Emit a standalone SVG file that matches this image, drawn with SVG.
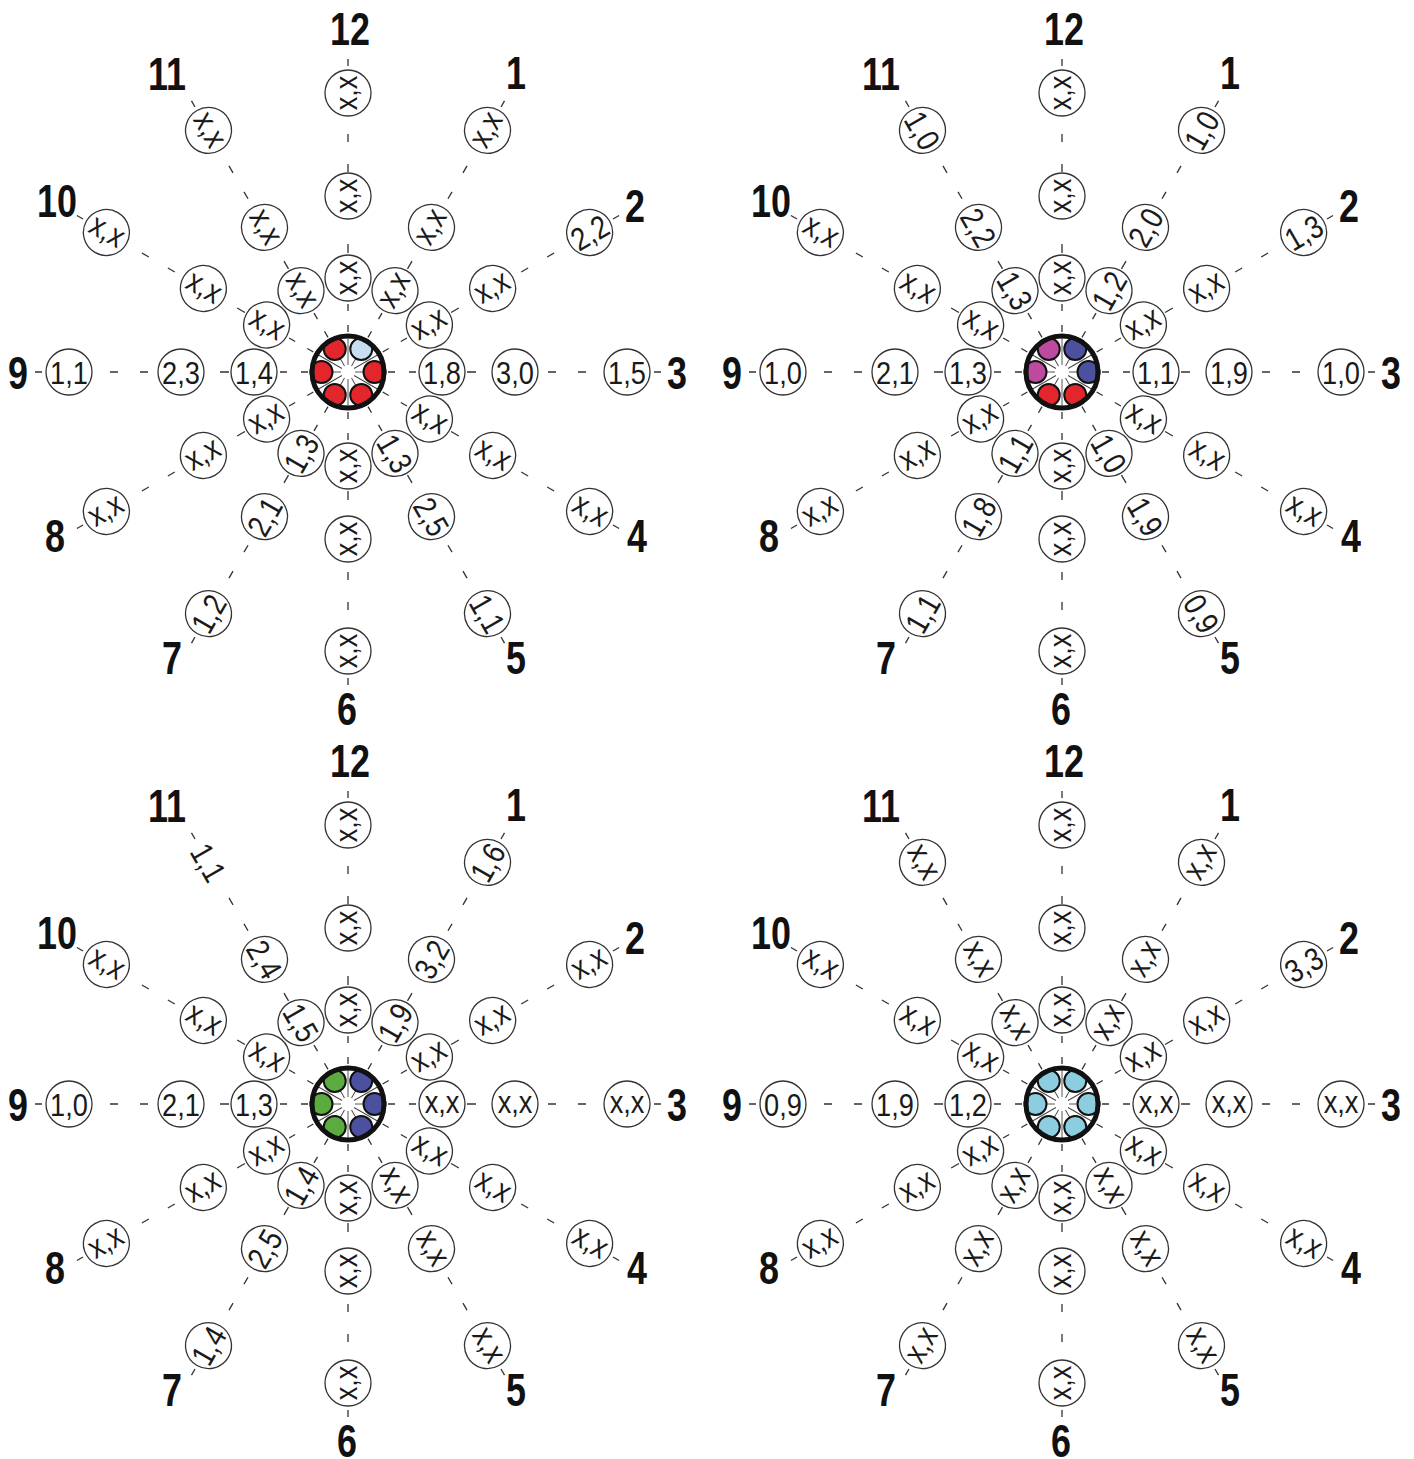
<svg xmlns="http://www.w3.org/2000/svg" xmlns:xlink="http://www.w3.org/1999/xlink" width="1414" height="1459" viewBox="0 0 1414 1459">
<style>
.sp{stroke:#333;stroke-width:1.3;fill:none;stroke-dasharray:7 14 7 51 9 72 8 22 8 68 7 200}
.c{fill:#fff;stroke:#333;stroke-width:1.3}
.t{font-family:'Liberation Sans',Arial,sans-serif;font-size:32px;fill:#1a1a1a;text-anchor:middle;transform:scale(0.85,1)}
.lb{font-family:'Liberation Sans',Arial,sans-serif;font-weight:bold;font-size:46px;fill:#111;text-anchor:middle}
.ring{fill:none;stroke:#111;stroke-width:5}
.hb{fill:#fff}
.ray{stroke:#444;stroke-width:0.9}
.dot{stroke:#111;stroke-width:2}
.red{fill:#e2262b}.lbl{fill:#c9ddf0}.mag{fill:#be4aa0}.blu{fill:#4c519f}.grn{fill:#5bab3f}.sky{fill:#8dcde0}
</style>
<defs>
<g id="rays">
<line class="ray" x1="7" x2="34" transform="rotate(0)"/><line class="ray" x1="7" x2="34" transform="rotate(30)"/><line class="ray" x1="7" x2="34" transform="rotate(60)"/><line class="ray" x1="7" x2="34" transform="rotate(90)"/><line class="ray" x1="7" x2="34" transform="rotate(120)"/><line class="ray" x1="7" x2="34" transform="rotate(150)"/><line class="ray" x1="7" x2="34" transform="rotate(180)"/><line class="ray" x1="7" x2="34" transform="rotate(210)"/><line class="ray" x1="7" x2="34" transform="rotate(240)"/><line class="ray" x1="7" x2="34" transform="rotate(270)"/><line class="ray" x1="7" x2="34" transform="rotate(300)"/><line class="ray" x1="7" x2="34" transform="rotate(330)"/>
</g>
<g id="spk">
<line class="sp" x1="40" x2="330" transform="rotate(-90)"/><line class="sp" x1="40" x2="330" transform="rotate(-60)"/><line class="sp" x1="40" x2="330" transform="rotate(-30)"/><line class="sp" x1="40" x2="330" transform="rotate(0)"/><line class="sp" x1="40" x2="330" transform="rotate(30)"/><line class="sp" x1="40" x2="330" transform="rotate(60)"/><line class="sp" x1="40" x2="330" transform="rotate(90)"/><line class="sp" x1="40" x2="330" transform="rotate(120)"/><line class="sp" x1="40" x2="330" transform="rotate(150)"/><line class="sp" x1="40" x2="330" transform="rotate(180)"/><line class="sp" x1="40" x2="330" transform="rotate(210)"/><line class="sp" x1="40" x2="330" transform="rotate(240)"/>
</g>
<g id="lbls">
<text class="lb" transform="translate(2 -327) scale(0.78 1)">12</text><text class="lb" transform="translate(168 -283) scale(0.78 1)">1</text><text class="lb" transform="translate(287 -150) scale(0.78 1)">2</text><text class="lb" transform="translate(329 16.5) scale(0.78 1)">3</text><text class="lb" transform="translate(289 179.5) scale(0.78 1)">4</text><text class="lb" transform="translate(168 301.5) scale(0.78 1)">5</text><text class="lb" transform="translate(-1 352.5) scale(0.78 1)">6</text><text class="lb" transform="translate(-176 301.5) scale(0.78 1)">7</text><text class="lb" transform="translate(-293 179.5) scale(0.78 1)">8</text><text class="lb" transform="translate(-330 16.5) scale(0.78 1)">9</text><text class="lb" transform="translate(-291 -155.5) scale(0.78 1)">10</text><text class="lb" transform="translate(-181 -282.5) scale(0.78 1)">11</text>
</g>
</defs>
<rect width="1414" height="1459" fill="#fff"/>

<g id="connectors">
<use xlink:href="#spk" href="#spk" transform="translate(348 372)"/>
<use xlink:href="#spk" href="#spk" transform="translate(1062 372)"/>
<use xlink:href="#spk" href="#spk" transform="translate(348 1104)"/>
<use xlink:href="#spk" href="#spk" transform="translate(1062 1104)"/>
</g>

<!-- Top-left -->
<g id="diagram-a" transform="translate(348 372)">
<g id="a-hub"><circle class="hb" r="36"/><use xlink:href="#rays" href="#rays"/>
<circle class="dot red" cx="26.5" cy="0" r="11"/><circle class="dot red" cx="13.25" cy="22.95" r="11"/><circle class="dot red" cx="-13.25" cy="22.95" r="11"/><circle class="dot red" cx="-26.5" cy="0" r="11"/><circle class="dot red" cx="-13.25" cy="-22.95" r="11"/><circle class="dot lbl" cx="13.25" cy="-22.95" r="11"/>
<circle class="ring" r="36"/></g>
<g id="a-12-1" transform="rotate(-90) translate(94 0)"><circle class="c" r="23"/><text class="t" y="8.5">x,x</text></g>
<g id="a-12-2" transform="rotate(-90) translate(176 0)"><circle class="c" r="23"/><text class="t" y="8.5">x,x</text></g>
<g id="a-12-3" transform="rotate(-90) translate(279 0)"><circle class="c" r="23"/><text class="t" y="8.5">x,x</text></g>
<g id="a-1-1" transform="rotate(-60) translate(94 0)"><circle class="c" r="23"/><text class="t" y="8.5">x,x</text></g>
<g id="a-1-2" transform="rotate(-60) translate(167 0)"><circle class="c" r="23"/><text class="t" y="8.5">x,x</text></g>
<g id="a-1-3" transform="rotate(-60) translate(279 0)"><circle class="c" r="23"/><text class="t" y="8.5">x,x</text></g>
<g id="a-2-1" transform="rotate(-30) translate(94 0)"><circle class="c" r="23"/><text class="t" y="8.5">x,x</text></g>
<g id="a-2-2" transform="rotate(-30) translate(167 0)"><circle class="c" r="23"/><text class="t" y="8.5">x,x</text></g>
<g id="a-2-3" transform="rotate(-30) translate(279 0)"><circle class="c" r="23"/><text class="t" y="11.5">2,2</text></g>
<g id="a-3-1" transform="translate(94 0)"><circle class="c" r="23"/><text class="t" y="11.5">1,8</text></g>
<g id="a-3-2" transform="translate(167 0)"><circle class="c" r="23"/><text class="t" y="11.5">3,0</text></g>
<g id="a-3-3" transform="translate(279 0)"><circle class="c" r="23"/><text class="t" y="11.5">1,5</text></g>
<g id="a-4-1" transform="rotate(30) translate(94 0)"><circle class="c" r="23"/><text class="t" y="8.5">x,x</text></g>
<g id="a-4-2" transform="rotate(30) translate(167 0)"><circle class="c" r="23"/><text class="t" y="8.5">x,x</text></g>
<g id="a-4-3" transform="rotate(30) translate(279 0)"><circle class="c" r="23"/><text class="t" y="8.5">x,x</text></g>
<g id="a-5-1" transform="rotate(60) translate(94 0)"><circle class="c" r="23"/><text class="t" y="11.5">1,3</text></g>
<g id="a-5-2" transform="rotate(60) translate(167 0)"><circle class="c" r="23"/><text class="t" y="11.5">2,5</text></g>
<g id="a-5-3" transform="rotate(60) translate(279 0)"><circle class="c" r="23"/><text class="t" y="11.5">1,1</text></g>
<g id="a-6-1" transform="rotate(90) translate(94 0) rotate(180)"><circle class="c" r="23"/><text class="t" y="8.5">x,x</text></g>
<g id="a-6-2" transform="rotate(90) translate(167 0) rotate(180)"><circle class="c" r="23"/><text class="t" y="8.5">x,x</text></g>
<g id="a-6-3" transform="rotate(90) translate(279 0) rotate(180)"><circle class="c" r="23"/><text class="t" y="8.5">x,x</text></g>
<g id="a-7-1" transform="rotate(120) translate(94 0) rotate(180)"><circle class="c" r="23"/><text class="t" y="11.5">1,3</text></g>
<g id="a-7-2" transform="rotate(120) translate(167 0) rotate(180)"><circle class="c" r="23"/><text class="t" y="11.5">2,1</text></g>
<g id="a-7-3" transform="rotate(120) translate(279 0) rotate(180)"><circle class="c" r="23"/><text class="t" y="11.5">1,2</text></g>
<g id="a-8-1" transform="rotate(150) translate(94 0) rotate(180)"><circle class="c" r="23"/><text class="t" y="8.5">x,x</text></g>
<g id="a-8-2" transform="rotate(150) translate(167 0) rotate(180)"><circle class="c" r="23"/><text class="t" y="8.5">x,x</text></g>
<g id="a-8-3" transform="rotate(150) translate(279 0) rotate(180)"><circle class="c" r="23"/><text class="t" y="8.5">x,x</text></g>
<g id="a-9-1" transform="rotate(180) translate(94 0) rotate(180)"><circle class="c" r="23"/><text class="t" y="11.5">1,4</text></g>
<g id="a-9-2" transform="rotate(180) translate(167 0) rotate(180)"><circle class="c" r="23"/><text class="t" y="11.5">2,3</text></g>
<g id="a-9-3" transform="rotate(180) translate(279 0) rotate(180)"><circle class="c" r="23"/><text class="t" y="11.5">1,1</text></g>
<g id="a-10-1" transform="rotate(210) translate(94 0) rotate(180)"><circle class="c" r="23"/><text class="t" y="8.5">x,x</text></g>
<g id="a-10-2" transform="rotate(210) translate(167 0) rotate(180)"><circle class="c" r="23"/><text class="t" y="8.5">x,x</text></g>
<g id="a-10-3" transform="rotate(210) translate(279 0) rotate(180)"><circle class="c" r="23"/><text class="t" y="8.5">x,x</text></g>
<g id="a-11-1" transform="rotate(240) translate(94 0) rotate(180)"><circle class="c" r="23"/><text class="t" y="8.5">x,x</text></g>
<g id="a-11-2" transform="rotate(240) translate(167 0) rotate(180)"><circle class="c" r="23"/><text class="t" y="8.5">x,x</text></g>
<g id="a-11-3" transform="rotate(240) translate(279 0) rotate(180)"><circle class="c" r="23"/><text class="t" y="8.5">x,x</text></g>
<use id="a-labels" xlink:href="#lbls" href="#lbls"/>
</g>

<!-- Top-right -->
<g id="diagram-b" transform="translate(1062 372)">
<g id="b-hub"><circle class="hb" r="36"/><use xlink:href="#rays" href="#rays"/>
<circle class="dot blu" cx="26.5" cy="0" r="11"/><circle class="dot red" cx="13.25" cy="22.95" r="11"/><circle class="dot red" cx="-13.25" cy="22.95" r="11"/><circle class="dot mag" cx="-26.5" cy="0" r="11"/><circle class="dot mag" cx="-13.25" cy="-22.95" r="11"/><circle class="dot blu" cx="13.25" cy="-22.95" r="11"/>
<circle class="ring" r="36"/></g>
<g id="b-12-1" transform="rotate(-90) translate(94 0)"><circle class="c" r="23"/><text class="t" y="8.5">x,x</text></g>
<g id="b-12-2" transform="rotate(-90) translate(176 0)"><circle class="c" r="23"/><text class="t" y="8.5">x,x</text></g>
<g id="b-12-3" transform="rotate(-90) translate(279 0)"><circle class="c" r="23"/><text class="t" y="8.5">x,x</text></g>
<g id="b-1-1" transform="rotate(-60) translate(94 0)"><circle class="c" r="23"/><text class="t" y="11.5">1,2</text></g>
<g id="b-1-2" transform="rotate(-60) translate(167 0)"><circle class="c" r="23"/><text class="t" y="11.5">2,0</text></g>
<g id="b-1-3" transform="rotate(-60) translate(279 0)"><circle class="c" r="23"/><text class="t" y="11.5">1,0</text></g>
<g id="b-2-1" transform="rotate(-30) translate(94 0)"><circle class="c" r="23"/><text class="t" y="8.5">x,x</text></g>
<g id="b-2-2" transform="rotate(-30) translate(167 0)"><circle class="c" r="23"/><text class="t" y="8.5">x,x</text></g>
<g id="b-2-3" transform="rotate(-30) translate(279 0)"><circle class="c" r="23"/><text class="t" y="11.5">1,3</text></g>
<g id="b-3-1" transform="translate(94 0)"><circle class="c" r="23"/><text class="t" y="11.5">1,1</text></g>
<g id="b-3-2" transform="translate(167 0)"><circle class="c" r="23"/><text class="t" y="11.5">1,9</text></g>
<g id="b-3-3" transform="translate(279 0)"><circle class="c" r="23"/><text class="t" y="11.5">1,0</text></g>
<g id="b-4-1" transform="rotate(30) translate(94 0)"><circle class="c" r="23"/><text class="t" y="8.5">x,x</text></g>
<g id="b-4-2" transform="rotate(30) translate(167 0)"><circle class="c" r="23"/><text class="t" y="8.5">x,x</text></g>
<g id="b-4-3" transform="rotate(30) translate(279 0)"><circle class="c" r="23"/><text class="t" y="8.5">x,x</text></g>
<g id="b-5-1" transform="rotate(60) translate(94 0)"><circle class="c" r="23"/><text class="t" y="11.5">1,0</text></g>
<g id="b-5-2" transform="rotate(60) translate(167 0)"><circle class="c" r="23"/><text class="t" y="11.5">1,9</text></g>
<g id="b-5-3" transform="rotate(60) translate(279 0)"><circle class="c" r="23"/><text class="t" y="11.5">0,9</text></g>
<g id="b-6-1" transform="rotate(90) translate(94 0) rotate(180)"><circle class="c" r="23"/><text class="t" y="8.5">x,x</text></g>
<g id="b-6-2" transform="rotate(90) translate(167 0) rotate(180)"><circle class="c" r="23"/><text class="t" y="8.5">x,x</text></g>
<g id="b-6-3" transform="rotate(90) translate(279 0) rotate(180)"><circle class="c" r="23"/><text class="t" y="8.5">x,x</text></g>
<g id="b-7-1" transform="rotate(120) translate(94 0) rotate(180)"><circle class="c" r="23"/><text class="t" y="11.5">1,1</text></g>
<g id="b-7-2" transform="rotate(120) translate(167 0) rotate(180)"><circle class="c" r="23"/><text class="t" y="11.5">1,8</text></g>
<g id="b-7-3" transform="rotate(120) translate(279 0) rotate(180)"><circle class="c" r="23"/><text class="t" y="11.5">1,1</text></g>
<g id="b-8-1" transform="rotate(150) translate(94 0) rotate(180)"><circle class="c" r="23"/><text class="t" y="8.5">x,x</text></g>
<g id="b-8-2" transform="rotate(150) translate(167 0) rotate(180)"><circle class="c" r="23"/><text class="t" y="8.5">x,x</text></g>
<g id="b-8-3" transform="rotate(150) translate(279 0) rotate(180)"><circle class="c" r="23"/><text class="t" y="8.5">x,x</text></g>
<g id="b-9-1" transform="rotate(180) translate(94 0) rotate(180)"><circle class="c" r="23"/><text class="t" y="11.5">1,3</text></g>
<g id="b-9-2" transform="rotate(180) translate(167 0) rotate(180)"><circle class="c" r="23"/><text class="t" y="11.5">2,1</text></g>
<g id="b-9-3" transform="rotate(180) translate(279 0) rotate(180)"><circle class="c" r="23"/><text class="t" y="11.5">1,0</text></g>
<g id="b-10-1" transform="rotate(210) translate(94 0) rotate(180)"><circle class="c" r="23"/><text class="t" y="8.5">x,x</text></g>
<g id="b-10-2" transform="rotate(210) translate(167 0) rotate(180)"><circle class="c" r="23"/><text class="t" y="8.5">x,x</text></g>
<g id="b-10-3" transform="rotate(210) translate(279 0) rotate(180)"><circle class="c" r="23"/><text class="t" y="8.5">x,x</text></g>
<g id="b-11-1" transform="rotate(240) translate(94 0) rotate(180)"><circle class="c" r="23"/><text class="t" y="11.5">1,3</text></g>
<g id="b-11-2" transform="rotate(240) translate(167 0) rotate(180)"><circle class="c" r="23"/><text class="t" y="11.5">2,2</text></g>
<g id="b-11-3" transform="rotate(240) translate(279 0) rotate(180)"><circle class="c" r="23"/><text class="t" y="11.5">1,0</text></g>
<use id="b-labels" xlink:href="#lbls" href="#lbls"/>
</g>

<!-- Bottom-left -->
<g id="diagram-c" transform="translate(348 1104)">
<g id="c-hub"><circle class="hb" r="36"/><use xlink:href="#rays" href="#rays"/>
<circle class="dot blu" cx="26.5" cy="0" r="11"/><circle class="dot blu" cx="13.25" cy="22.95" r="11"/><circle class="dot grn" cx="-13.25" cy="22.95" r="11"/><circle class="dot grn" cx="-26.5" cy="0" r="11"/><circle class="dot grn" cx="-13.25" cy="-22.95" r="11"/><circle class="dot blu" cx="13.25" cy="-22.95" r="11"/>
<circle class="ring" r="36"/></g>
<g id="c-12-1" transform="rotate(-90) translate(94 0)"><circle class="c" r="23"/><text class="t" y="8.5">x,x</text></g>
<g id="c-12-2" transform="rotate(-90) translate(176 0)"><circle class="c" r="23"/><text class="t" y="8.5">x,x</text></g>
<g id="c-12-3" transform="rotate(-90) translate(279 0)"><circle class="c" r="23"/><text class="t" y="8.5">x,x</text></g>
<g id="c-1-1" transform="rotate(-60) translate(94 0)"><circle class="c" r="23"/><text class="t" y="11.5">1,9</text></g>
<g id="c-1-2" transform="rotate(-60) translate(167 0)"><circle class="c" r="23"/><text class="t" y="11.5">3,2</text></g>
<g id="c-1-3" transform="rotate(-60) translate(279 0)"><circle class="c" r="23"/><text class="t" y="11.5">1,6</text></g>
<g id="c-2-1" transform="rotate(-30) translate(94 0)"><circle class="c" r="23"/><text class="t" y="8.5">x,x</text></g>
<g id="c-2-2" transform="rotate(-30) translate(167 0)"><circle class="c" r="23"/><text class="t" y="8.5">x,x</text></g>
<g id="c-2-3" transform="rotate(-30) translate(279 0)"><circle class="c" r="23"/><text class="t" y="8.5">x,x</text></g>
<g id="c-3-1" transform="translate(94 0)"><circle class="c" r="23"/><text class="t" y="8.5">x,x</text></g>
<g id="c-3-2" transform="translate(167 0)"><circle class="c" r="23"/><text class="t" y="8.5">x,x</text></g>
<g id="c-3-3" transform="translate(279 0)"><circle class="c" r="23"/><text class="t" y="8.5">x,x</text></g>
<g id="c-4-1" transform="rotate(30) translate(94 0)"><circle class="c" r="23"/><text class="t" y="8.5">x,x</text></g>
<g id="c-4-2" transform="rotate(30) translate(167 0)"><circle class="c" r="23"/><text class="t" y="8.5">x,x</text></g>
<g id="c-4-3" transform="rotate(30) translate(279 0)"><circle class="c" r="23"/><text class="t" y="8.5">x,x</text></g>
<g id="c-5-1" transform="rotate(60) translate(94 0)"><circle class="c" r="23"/><text class="t" y="8.5">x,x</text></g>
<g id="c-5-2" transform="rotate(60) translate(167 0)"><circle class="c" r="23"/><text class="t" y="8.5">x,x</text></g>
<g id="c-5-3" transform="rotate(60) translate(279 0)"><circle class="c" r="23"/><text class="t" y="8.5">x,x</text></g>
<g id="c-6-1" transform="rotate(90) translate(94 0) rotate(180)"><circle class="c" r="23"/><text class="t" y="8.5">x,x</text></g>
<g id="c-6-2" transform="rotate(90) translate(167 0) rotate(180)"><circle class="c" r="23"/><text class="t" y="8.5">x,x</text></g>
<g id="c-6-3" transform="rotate(90) translate(279 0) rotate(180)"><circle class="c" r="23"/><text class="t" y="8.5">x,x</text></g>
<g id="c-7-1" transform="rotate(120) translate(94 0) rotate(180)"><circle class="c" r="23"/><text class="t" y="11.5">1,4</text></g>
<g id="c-7-2" transform="rotate(120) translate(167 0) rotate(180)"><circle class="c" r="23"/><text class="t" y="11.5">2,5</text></g>
<g id="c-7-3" transform="rotate(120) translate(279 0) rotate(180)"><circle class="c" r="23"/><text class="t" y="11.5">1,4</text></g>
<g id="c-8-1" transform="rotate(150) translate(94 0) rotate(180)"><circle class="c" r="23"/><text class="t" y="8.5">x,x</text></g>
<g id="c-8-2" transform="rotate(150) translate(167 0) rotate(180)"><circle class="c" r="23"/><text class="t" y="8.5">x,x</text></g>
<g id="c-8-3" transform="rotate(150) translate(279 0) rotate(180)"><circle class="c" r="23"/><text class="t" y="8.5">x,x</text></g>
<g id="c-9-1" transform="rotate(180) translate(94 0) rotate(180)"><circle class="c" r="23"/><text class="t" y="11.5">1,3</text></g>
<g id="c-9-2" transform="rotate(180) translate(167 0) rotate(180)"><circle class="c" r="23"/><text class="t" y="11.5">2,1</text></g>
<g id="c-9-3" transform="rotate(180) translate(279 0) rotate(180)"><circle class="c" r="23"/><text class="t" y="11.5">1,0</text></g>
<g id="c-10-1" transform="rotate(210) translate(94 0) rotate(180)"><circle class="c" r="23"/><text class="t" y="8.5">x,x</text></g>
<g id="c-10-2" transform="rotate(210) translate(167 0) rotate(180)"><circle class="c" r="23"/><text class="t" y="8.5">x,x</text></g>
<g id="c-10-3" transform="rotate(210) translate(279 0) rotate(180)"><circle class="c" r="23"/><text class="t" y="8.5">x,x</text></g>
<g id="c-11-1" transform="rotate(240) translate(94 0) rotate(180)"><circle class="c" r="23"/><text class="t" y="11.5">1,5</text></g>
<g id="c-11-2" transform="rotate(240) translate(167 0) rotate(180)"><circle class="c" r="23"/><text class="t" y="11.5">2,4</text></g>
<g id="c-11-3" transform="rotate(240) translate(279 0) rotate(180)"><circle r="23" fill="#fff"/><text class="t" y="11.5">1,1</text></g>
<use id="c-labels" xlink:href="#lbls" href="#lbls"/>
</g>

<!-- Bottom-right -->
<g id="diagram-d" transform="translate(1062 1104)">
<g id="d-hub"><circle class="hb" r="36"/><use xlink:href="#rays" href="#rays"/>
<circle class="dot sky" cx="26.5" cy="0" r="11"/><circle class="dot sky" cx="13.25" cy="22.95" r="11"/><circle class="dot sky" cx="-13.25" cy="22.95" r="11"/><circle class="dot sky" cx="-26.5" cy="0" r="11"/><circle class="dot sky" cx="-13.25" cy="-22.95" r="11"/><circle class="dot sky" cx="13.25" cy="-22.95" r="11"/>
<circle class="ring" r="36"/></g>
<g id="d-12-1" transform="rotate(-90) translate(94 0)"><circle class="c" r="23"/><text class="t" y="8.5">x,x</text></g>
<g id="d-12-2" transform="rotate(-90) translate(176 0)"><circle class="c" r="23"/><text class="t" y="8.5">x,x</text></g>
<g id="d-12-3" transform="rotate(-90) translate(279 0)"><circle class="c" r="23"/><text class="t" y="8.5">x,x</text></g>
<g id="d-1-1" transform="rotate(-60) translate(94 0)"><circle class="c" r="23"/><text class="t" y="8.5">x,x</text></g>
<g id="d-1-2" transform="rotate(-60) translate(167 0)"><circle class="c" r="23"/><text class="t" y="8.5">x,x</text></g>
<g id="d-1-3" transform="rotate(-60) translate(279 0)"><circle class="c" r="23"/><text class="t" y="8.5">x,x</text></g>
<g id="d-2-1" transform="rotate(-30) translate(94 0)"><circle class="c" r="23"/><text class="t" y="8.5">x,x</text></g>
<g id="d-2-2" transform="rotate(-30) translate(167 0)"><circle class="c" r="23"/><text class="t" y="8.5">x,x</text></g>
<g id="d-2-3" transform="rotate(-30) translate(279 0)"><circle class="c" r="23"/><text class="t" y="11.5">3,3</text></g>
<g id="d-3-1" transform="translate(94 0)"><circle class="c" r="23"/><text class="t" y="8.5">x,x</text></g>
<g id="d-3-2" transform="translate(167 0)"><circle class="c" r="23"/><text class="t" y="8.5">x,x</text></g>
<g id="d-3-3" transform="translate(279 0)"><circle class="c" r="23"/><text class="t" y="8.5">x,x</text></g>
<g id="d-4-1" transform="rotate(30) translate(94 0)"><circle class="c" r="23"/><text class="t" y="8.5">x,x</text></g>
<g id="d-4-2" transform="rotate(30) translate(167 0)"><circle class="c" r="23"/><text class="t" y="8.5">x,x</text></g>
<g id="d-4-3" transform="rotate(30) translate(279 0)"><circle class="c" r="23"/><text class="t" y="8.5">x,x</text></g>
<g id="d-5-1" transform="rotate(60) translate(94 0)"><circle class="c" r="23"/><text class="t" y="8.5">x,x</text></g>
<g id="d-5-2" transform="rotate(60) translate(167 0)"><circle class="c" r="23"/><text class="t" y="8.5">x,x</text></g>
<g id="d-5-3" transform="rotate(60) translate(279 0)"><circle class="c" r="23"/><text class="t" y="8.5">x,x</text></g>
<g id="d-6-1" transform="rotate(90) translate(94 0) rotate(180)"><circle class="c" r="23"/><text class="t" y="8.5">x,x</text></g>
<g id="d-6-2" transform="rotate(90) translate(167 0) rotate(180)"><circle class="c" r="23"/><text class="t" y="8.5">x,x</text></g>
<g id="d-6-3" transform="rotate(90) translate(279 0) rotate(180)"><circle class="c" r="23"/><text class="t" y="8.5">x,x</text></g>
<g id="d-7-1" transform="rotate(120) translate(94 0) rotate(180)"><circle class="c" r="23"/><text class="t" y="8.5">x,x</text></g>
<g id="d-7-2" transform="rotate(120) translate(167 0) rotate(180)"><circle class="c" r="23"/><text class="t" y="8.5">x,x</text></g>
<g id="d-7-3" transform="rotate(120) translate(279 0) rotate(180)"><circle class="c" r="23"/><text class="t" y="8.5">x,x</text></g>
<g id="d-8-1" transform="rotate(150) translate(94 0) rotate(180)"><circle class="c" r="23"/><text class="t" y="8.5">x,x</text></g>
<g id="d-8-2" transform="rotate(150) translate(167 0) rotate(180)"><circle class="c" r="23"/><text class="t" y="8.5">x,x</text></g>
<g id="d-8-3" transform="rotate(150) translate(279 0) rotate(180)"><circle class="c" r="23"/><text class="t" y="8.5">x,x</text></g>
<g id="d-9-1" transform="rotate(180) translate(94 0) rotate(180)"><circle class="c" r="23"/><text class="t" y="11.5">1,2</text></g>
<g id="d-9-2" transform="rotate(180) translate(167 0) rotate(180)"><circle class="c" r="23"/><text class="t" y="11.5">1,9</text></g>
<g id="d-9-3" transform="rotate(180) translate(279 0) rotate(180)"><circle class="c" r="23"/><text class="t" y="11.5">0,9</text></g>
<g id="d-10-1" transform="rotate(210) translate(94 0) rotate(180)"><circle class="c" r="23"/><text class="t" y="8.5">x,x</text></g>
<g id="d-10-2" transform="rotate(210) translate(167 0) rotate(180)"><circle class="c" r="23"/><text class="t" y="8.5">x,x</text></g>
<g id="d-10-3" transform="rotate(210) translate(279 0) rotate(180)"><circle class="c" r="23"/><text class="t" y="8.5">x,x</text></g>
<g id="d-11-1" transform="rotate(240) translate(94 0) rotate(180)"><circle class="c" r="23"/><text class="t" y="8.5">x,x</text></g>
<g id="d-11-2" transform="rotate(240) translate(167 0) rotate(180)"><circle class="c" r="23"/><text class="t" y="8.5">x,x</text></g>
<g id="d-11-3" transform="rotate(240) translate(279 0) rotate(180)"><circle class="c" r="23"/><text class="t" y="8.5">x,x</text></g>
<use id="d-labels" xlink:href="#lbls" href="#lbls"/>
</g>
</svg>
